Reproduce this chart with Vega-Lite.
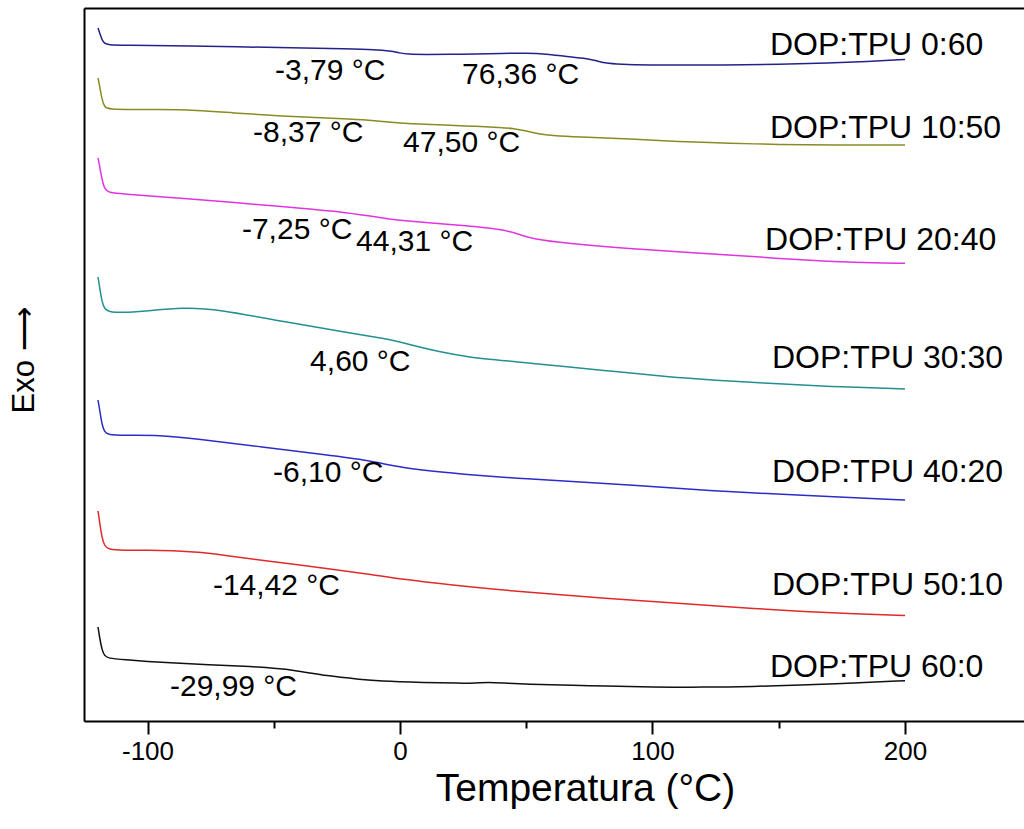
{
  "$schema": "https://vega.github.io/schema/vega-lite/v6.json",
  "width": 940,
  "height": 713,
  "autosize": {"type": "none"},
  "padding": {"left": 84, "top": 8, "right": 0, "bottom": 108},
  "background": "white",
  "config": {"view": {"stroke": null}, "font": "Liberation Sans"},
  "datasets": {
    "curves": [
      {"s": "0:60", "T": -119.6, "hf": 693}, {"s": "0:60", "T": -118.8, "hf": 687}, {"s": "0:60", "T": -118.0, "hf": 681}, {"s": "0:60", "T": -117.0, "hf": 677.5}, {"s": "0:60", "T": -115.5, "hf": 676.2}, {"s": "0:60", "T": -110, "hf": 675.8}, {"s": "0:60", "T": -85.5, "hf": 675.3}, {"s": "0:60", "T": -46, "hf": 673.3}, {"s": "0:60", "T": -20, "hf": 672.2}, {"s": "0:60", "T": -10, "hf": 671.5}, {"s": "0:60", "T": -4, "hf": 670}, {"s": "0:60", "T": 0, "hf": 668}, {"s": "0:60", "T": 3, "hf": 666.8}, {"s": "0:60", "T": 10, "hf": 666.5}, {"s": "0:60", "T": 20, "hf": 666.7}, {"s": "0:60", "T": 30, "hf": 667}, {"s": "0:60", "T": 40, "hf": 667.5}, {"s": "0:60", "T": 50, "hf": 668}, {"s": "0:60", "T": 58, "hf": 667}, {"s": "0:60", "T": 66, "hf": 664.3}, {"s": "0:60", "T": 74, "hf": 662.7}, {"s": "0:60", "T": 78, "hf": 660}, {"s": "0:60", "T": 82, "hf": 657.5}, {"s": "0:60", "T": 90, "hf": 656.4}, {"s": "0:60", "T": 100, "hf": 656}, {"s": "0:60", "T": 130, "hf": 656}, {"s": "0:60", "T": 150, "hf": 656.7}, {"s": "0:60", "T": 170, "hf": 658}, {"s": "0:60", "T": 185, "hf": 659.5}, {"s": "0:60", "T": 200, "hf": 661.5},

      {"s": "10:50", "T": -119.6, "hf": 643}, {"s": "10:50", "T": -118.8, "hf": 633}, {"s": "10:50", "T": -118.0, "hf": 621}, {"s": "10:50", "T": -117.0, "hf": 614}, {"s": "10:50", "T": -115.5, "hf": 611.7}, {"s": "10:50", "T": -105, "hf": 611.5}, {"s": "10:50", "T": -98, "hf": 611.7}, {"s": "10:50", "T": -80, "hf": 611}, {"s": "10:50", "T": -66, "hf": 608}, {"s": "10:50", "T": -50, "hf": 605.5}, {"s": "10:50", "T": -33, "hf": 603.3}, {"s": "10:50", "T": -20, "hf": 602}, {"s": "10:50", "T": -10, "hf": 600.5}, {"s": "10:50", "T": 0, "hf": 597.8}, {"s": "10:50", "T": 10, "hf": 596.5}, {"s": "10:50", "T": 20, "hf": 596}, {"s": "10:50", "T": 30, "hf": 594.7}, {"s": "10:50", "T": 40, "hf": 593.5}, {"s": "10:50", "T": 45, "hf": 592.5}, {"s": "10:50", "T": 50, "hf": 590}, {"s": "10:50", "T": 55, "hf": 587}, {"s": "10:50", "T": 60, "hf": 585.5}, {"s": "10:50", "T": 70, "hf": 584}, {"s": "10:50", "T": 92, "hf": 582}, {"s": "10:50", "T": 110, "hf": 579.5}, {"s": "10:50", "T": 131, "hf": 577.7}, {"s": "10:50", "T": 150, "hf": 576.5}, {"s": "10:50", "T": 171, "hf": 576}, {"s": "10:50", "T": 200, "hf": 576},

      {"s": "20:40", "T": -119.6, "hf": 563}, {"s": "20:40", "T": -118.8, "hf": 553}, {"s": "20:40", "T": -118.0, "hf": 541}, {"s": "20:40", "T": -117.0, "hf": 532}, {"s": "20:40", "T": -115.5, "hf": 528.3}, {"s": "20:40", "T": -110, "hf": 527}, {"s": "20:40", "T": -85.5, "hf": 522.7}, {"s": "20:40", "T": -46, "hf": 514.3}, {"s": "20:40", "T": -19.5, "hf": 508.3}, {"s": "20:40", "T": -6.3, "hf": 502.7}, {"s": "20:40", "T": 0, "hf": 500.8}, {"s": "20:40", "T": 6.9, "hf": 499.3}, {"s": "20:40", "T": 26.7, "hf": 495}, {"s": "20:40", "T": 35, "hf": 493}, {"s": "20:40", "T": 41.2, "hf": 491}, {"s": "20:40", "T": 47, "hf": 487}, {"s": "20:40", "T": 52.8, "hf": 481.7}, {"s": "20:40", "T": 66, "hf": 477.7}, {"s": "20:40", "T": 90, "hf": 472.5}, {"s": "20:40", "T": 118.8, "hf": 467.7}, {"s": "20:40", "T": 140, "hf": 464.5}, {"s": "20:40", "T": 158.4, "hf": 461}, {"s": "20:40", "T": 180, "hf": 458.5}, {"s": "20:40", "T": 200, "hf": 457.7},

      {"s": "30:30", "T": -119.6, "hf": 444}, {"s": "30:30", "T": -118.8, "hf": 431}, {"s": "30:30", "T": -118.0, "hf": 419}, {"s": "30:30", "T": -117.0, "hf": 412}, {"s": "30:30", "T": -115.5, "hf": 409.3}, {"s": "30:30", "T": -110, "hf": 408.3}, {"s": "30:30", "T": -102, "hf": 409.5}, {"s": "30:30", "T": -85.5, "hf": 413.7}, {"s": "30:30", "T": -72.3, "hf": 411.7}, {"s": "30:30", "T": -46, "hf": 399.3}, {"s": "30:30", "T": -19.4, "hf": 387.7}, {"s": "30:30", "T": -5, "hf": 382}, {"s": "30:30", "T": 0, "hf": 379}, {"s": "30:30", "T": 6.7, "hf": 374.5}, {"s": "30:30", "T": 15, "hf": 369.5}, {"s": "30:30", "T": 26.5, "hf": 364}, {"s": "30:30", "T": 41.2, "hf": 360.3}, {"s": "30:30", "T": 66.1, "hf": 354.3}, {"s": "30:30", "T": 85, "hf": 349.5}, {"s": "30:30", "T": 105.7, "hf": 344.3}, {"s": "30:30", "T": 125, "hf": 340.8}, {"s": "30:30", "T": 145.3, "hf": 337.7}, {"s": "30:30", "T": 170, "hf": 334.5}, {"s": "30:30", "T": 200, "hf": 332},

      {"s": "40:20", "T": -119.6, "hf": 321}, {"s": "40:20", "T": -118.8, "hf": 309}, {"s": "40:20", "T": -118.0, "hf": 296}, {"s": "40:20", "T": -117.0, "hf": 289}, {"s": "40:20", "T": -115.5, "hf": 286}, {"s": "40:20", "T": -110, "hf": 285.5}, {"s": "40:20", "T": -95, "hf": 286}, {"s": "40:20", "T": -82, "hf": 282.7}, {"s": "40:20", "T": -55.4, "hf": 274.3}, {"s": "40:20", "T": -28.9, "hf": 266}, {"s": "40:20", "T": -12, "hf": 260.5}, {"s": "40:20", "T": -2.8, "hf": 255}, {"s": "40:20", "T": 8, "hf": 251}, {"s": "40:20", "T": 23.8, "hf": 247}, {"s": "40:20", "T": 50, "hf": 242}, {"s": "40:20", "T": 79.2, "hf": 238}, {"s": "40:20", "T": 110, "hf": 232.5}, {"s": "40:20", "T": 138.6, "hf": 228}, {"s": "40:20", "T": 170, "hf": 224.5}, {"s": "40:20", "T": 200, "hf": 221},

      {"s": "50:10", "T": -119.6, "hf": 210}, {"s": "50:10", "T": -118.8, "hf": 196}, {"s": "50:10", "T": -118.0, "hf": 183}, {"s": "50:10", "T": -117.0, "hf": 175}, {"s": "50:10", "T": -115.5, "hf": 171.5}, {"s": "50:10", "T": -110, "hf": 170.5}, {"s": "50:10", "T": -100, "hf": 171}, {"s": "50:10", "T": -90, "hf": 170.5}, {"s": "50:10", "T": -80, "hf": 169}, {"s": "50:10", "T": -70, "hf": 166}, {"s": "50:10", "T": -50, "hf": 159}, {"s": "50:10", "T": -30, "hf": 153}, {"s": "50:10", "T": -10, "hf": 146}, {"s": "50:10", "T": 0, "hf": 142}, {"s": "50:10", "T": 20, "hf": 136}, {"s": "50:10", "T": 40, "hf": 131}, {"s": "50:10", "T": 60, "hf": 127}, {"s": "50:10", "T": 80, "hf": 123}, {"s": "50:10", "T": 100, "hf": 119.5}, {"s": "50:10", "T": 120, "hf": 116}, {"s": "50:10", "T": 140, "hf": 112.5}, {"s": "50:10", "T": 160, "hf": 109.5}, {"s": "50:10", "T": 180, "hf": 107}, {"s": "50:10", "T": 200, "hf": 105.5},

      {"s": "60:0", "T": -119.6, "hf": 94}, {"s": "60:0", "T": -118.8, "hf": 81}, {"s": "60:0", "T": -118.0, "hf": 71}, {"s": "60:0", "T": -117.0, "hf": 65}, {"s": "60:0", "T": -115.5, "hf": 62.7}, {"s": "60:0", "T": -110, "hf": 61.5}, {"s": "60:0", "T": -95, "hf": 58.3}, {"s": "60:0", "T": -55, "hf": 54.3}, {"s": "60:0", "T": -42, "hf": 51}, {"s": "60:0", "T": -29, "hf": 45}, {"s": "60:0", "T": -15, "hf": 41.5}, {"s": "60:0", "T": -9, "hf": 40}, {"s": "60:0", "T": 10, "hf": 38.5}, {"s": "60:0", "T": 24, "hf": 37.7}, {"s": "60:0", "T": 30, "hf": 38}, {"s": "60:0", "T": 35, "hf": 38.8}, {"s": "60:0", "T": 40, "hf": 38.2}, {"s": "60:0", "T": 50, "hf": 36.8}, {"s": "60:0", "T": 70, "hf": 35.5}, {"s": "60:0", "T": 80, "hf": 35}, {"s": "60:0", "T": 100, "hf": 34}, {"s": "60:0", "T": 120, "hf": 33.7}, {"s": "60:0", "T": 140, "hf": 34.5}, {"s": "60:0", "T": 158, "hf": 36}, {"s": "60:0", "T": 180, "hf": 38}, {"s": "60:0", "T": 200, "hf": 40.3}
    ],
    "labels": [
      {"label": "-3,79 °C", "T": -49.5, "hf": 650},
      {"label": "76,36 °C", "T": 24.6, "hf": 646},
      {"label": "DOP:TPU 0:60", "T": 146.5, "hf": 676},
      {"label": "-8,37 °C", "T": -58.2, "hf": 588},
      {"label": "47,50 °C", "T": 1.2, "hf": 578},
      {"label": "DOP:TPU 10:50", "T": 146.5, "hf": 593},
      {"label": "-7,25 °C", "T": -62.6, "hf": 491},
      {"label": "44,31 °C", "T": -17.4, "hf": 479},
      {"label": "DOP:TPU 20:40", "T": 144.6, "hf": 481},
      {"label": "4,60 °C", "T": -35.6, "hf": 359},
      {"label": "DOP:TPU 30:30", "T": 147.3, "hf": 363},
      {"label": "-6,10 °C", "T": -50.3, "hf": 248},
      {"label": "DOP:TPU 40:20", "T": 147.3, "hf": 249},
      {"label": "-14,42 °C", "T": -74.1, "hf": 135},
      {"label": "DOP:TPU 50:10", "T": 147.3, "hf": 136},
      {"label": "-29,99 °C", "T": -91.1, "hf": 34},
      {"label": "DOP:TPU 60:0", "T": 146.5, "hf": 54}
    ]
  },
  "layer": [
    {
      "data": {"name": "curves"},
      "mark": {"type": "line", "strokeWidth": 1.5, "interpolate": "basis"},
      "encoding": {
        "x": {
          "field": "T", "type": "quantitative",
          "scale": {"domain": [-125.15, 247.13], "nice": false, "zero": false},
          "axis": {
            "values": [-100, -50, 0, 50, 100, 150, 200],
            "labelExpr": "datum.value % 100 === 0 ? '' + datum.value : ''",
            "tickSize": {"condition": {"test": "datum.value % 100 === 0", "value": 13}, "value": 7},
            "tickWidth": 2, "tickColor": "black",
            "domainColor": "black", "domainWidth": 2,
            "labelFontSize": 26, "labelColor": "black", "labelPadding": 4, "labelFont": "Liberation Sans",
            "grid": false,
            "title": "Temperatura (°C)", "titleFontSize": 39, "titleFontWeight": "normal", "titleColor": "black", "titleFont": "Liberation Sans",
            "titleX": 501, "titleY": 79, "titleAlign": "center", "titleBaseline": "alphabetic"
          }
        },
        "y": {
          "field": "hf", "type": "quantitative",
          "scale": {"domain": [0, 713], "nice": false, "zero": false},
          "axis": {
            "ticks": false, "labels": false, "grid": false,
            "domainColor": "black", "domainWidth": 2,
            "title": "Exo ⟶", "titleFontSize": 31, "titleFontWeight": "normal", "titleColor": "black", "titleFont": "Liberation Sans",
            "titleAngle": -90, "titleX": -60, "titleY": 352, "titleAlign": "center", "titleBaseline": "middle"
          }
        },
        "color": {
          "field": "s", "type": "nominal", "legend": null,
          "scale": {
            "domain": ["0:60", "10:50", "20:40", "30:30", "40:20", "50:10", "60:0"],
            "range": ["#22228a", "#8a8a22", "#e034e0", "#239090", "#2c2cc8", "#e02a2a", "#111111"]
          }
        }
      }
    },
    {
      "data": {"name": "labels"},
      "mark": {"type": "text", "align": "left", "baseline": "middle", "font": "Liberation Sans", "color": "black"},
      "encoding": {
        "x": {
          "field": "T", "type": "quantitative",
          "axis": {"orient": "top", "labels": false, "ticks": false, "grid": false, "domain": true, "domainColor": "black", "domainWidth": 2, "title": null}
        },
        "y": {"field": "hf", "type": "quantitative"},
        "text": {"field": "label"},
        "size": {"condition": {"test": "indexof(datum.label, 'DOP') === 0", "value": 32}, "value": 30}
      }
    }
  ],
  "resolve": {"axis": {"x": "independent"}}
}
